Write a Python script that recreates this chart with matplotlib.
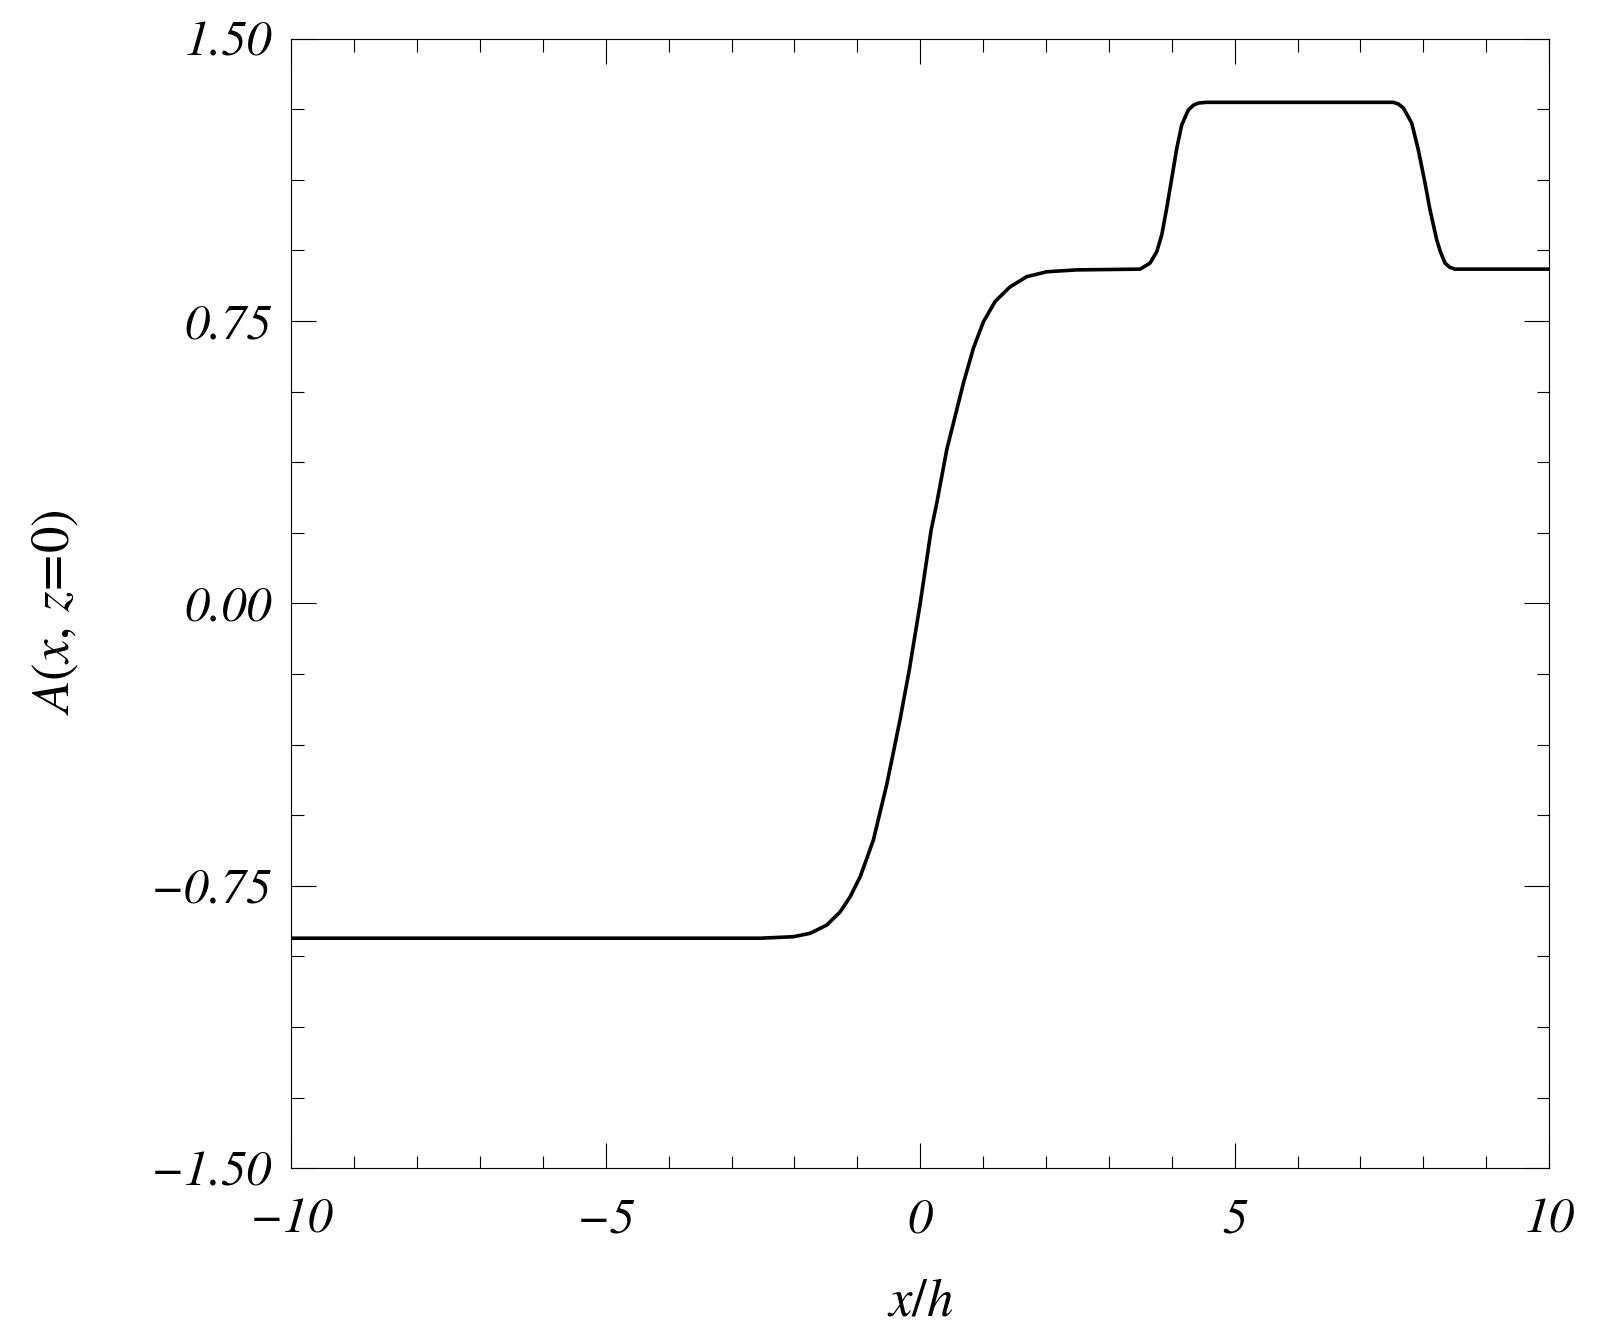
import matplotlib
matplotlib.use("Agg")
import matplotlib.pyplot as plt
from matplotlib.ticker import FixedLocator, FixedFormatter, MultipleLocator

plt.rcParams['mathtext.fontset'] = 'stix'
plt.rcParams['font.family'] = ['STIXGeneral', 'DejaVu Serif']

# profile: main kink around x=0, bump between x~3.5 and x~8.5
x_vals = [-10.0, -2.545, -2.016, -1.750, -1.485, -1.273, -1.114, -0.955, -0.849, -0.744,
          -0.531, -0.420, -0.320, -0.172, 0.0, 0.173, 0.264, 0.423, 0.582, 0.687,
          0.846, 1.005, 1.191, 1.429, 1.695, 2.013, 2.49, 3.496,
          3.655, 3.761, 3.841, 3.920, 4.0, 4.080, 4.159, 4.264, 4.35, 4.423, 4.55, 4.715,
          7.523, 7.60, 7.682, 7.816, 7.92, 8.027, 8.106, 8.213, 8.27, 8.345, 8.42, 8.504, 10.0]
a_vals = [-0.889, -0.889, -0.885, -0.876, -0.854, -0.819, -0.779, -0.726, -0.677, -0.628,
          -0.480, -0.390, -0.308, -0.175, 0.0, 0.194, 0.267, 0.409, 0.515, 0.585,
          0.678, 0.748, 0.802, 0.841, 0.868, 0.881, 0.886, 0.888,
          0.904, 0.934, 0.979, 1.050, 1.129, 1.209, 1.271, 1.311, 1.324, 1.329, 1.331, 1.331,
          1.331, 1.327, 1.316, 1.276, 1.205, 1.117, 1.046, 0.966, 0.935, 0.904, 0.893, 0.888, 0.888]

x_ticks = [-10, -5, 0, 5, 10]
x_ticklabels = ['\u221210', '\u22125', '0', '5', '10']
y_ticks = [-1.5, -0.75, 0.0, 0.75, 1.5]
y_ticklabels = ['\u22121.50', '\u22120.75', '0.00', '0.75', '1.50']

fig = plt.figure(figsize=(15.97, 13.39), dpi=100)
ax = fig.add_axes([0.1824, 0.1275, 0.7876, 0.8436])

ax.plot(x_vals, a_vals, color='black', lw=2.6, solid_joinstyle='round')

ax.set_xlim(-10, 10)
ax.set_ylim(-1.5, 1.5)

ax.xaxis.set_major_locator(FixedLocator(x_ticks))
ax.xaxis.set_major_formatter(FixedFormatter(x_ticklabels))
ax.xaxis.set_minor_locator(MultipleLocator(1))
ax.yaxis.set_major_locator(FixedLocator(y_ticks))
ax.yaxis.set_major_formatter(FixedFormatter(y_ticklabels))
ax.yaxis.set_minor_locator(MultipleLocator(0.1875))

ax.tick_params(which='both', direction='in', top=True, right=True, width=0.8)
ax.tick_params(which='major', length=18)
ax.tick_params(which='minor', length=9)
ax.tick_params(axis='x', which='major', pad=22, labelsize=36)
ax.tick_params(axis='y', which='major', pad=14, labelsize=36)
for lab in ax.get_xticklabels() + ax.get_yticklabels():
    lab.set_fontstyle('italic')

for sp in ax.spines.values():
    sp.set_linewidth(0.8)

ax.set_xlabel(r'$x/h$', fontsize=38)
ax.xaxis.set_label_coords(0.5, -0.097)
ax.set_ylabel(r'$A(x,\,z\!=\!\mathit{0})$', fontsize=38)
ax.yaxis.set_label_coords(-0.167, 0.492)

fig.savefig('out.png', dpi=100)
